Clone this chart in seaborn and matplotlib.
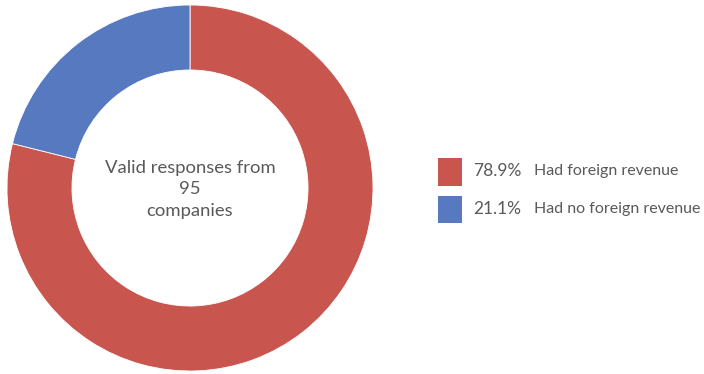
import matplotlib
matplotlib.use("Agg")
import matplotlib.pyplot as plt
from matplotlib.patches import Rectangle
import seaborn as sns

# Survey breakdown
categories = ["Had foreign revenue", "Had no foreign revenue"]
shares = [78.9, 21.1]
pct_labels = ["78.9%", "21.1%"]
center_label = "Valid responses from\n95\ncompanies"

colors = ["#C9554F", "#5679BF"]
text_color = "#595959"

sns.set_theme(style="white")
plt.rcParams["font.family"] = ["Lato", "DejaVu Sans"]

fig = plt.figure(figsize=(7.04, 3.74), dpi=100)
ax = fig.add_axes([7 / 704, 3 / 374, 366 / 704, 366 / 374])

ax.pie(
    shares,
    colors=colors,
    startangle=90,
    counterclock=False,
    radius=1.0,
    wedgeprops=dict(width=0.355, edgecolor="white", linewidth=0.6),
)
ax.set_xlim(-1, 1)
ax.set_ylim(-1, 1)
ax.set_aspect("equal")
ax.axis("off")

ax.text(0, -0.008, center_label, ha="center", va="center", fontsize=13.3,
        color=text_color, linespacing=1.4)

# Legend: colored swatch, percentage, category label
W, H = 704, 374
rows_y = [171.5, 209.5]
for y, c, p, lab in zip(rows_y, colors, pct_labels, categories):
    fig.patches.append(Rectangle((438 / W, 1 - (y + 14) / H), 24 / W, 28 / H,
                                 transform=fig.transFigure, facecolor=c,
                                 edgecolor="none"))
    fig.text(473 / W, 1 - y / H, p, ha="left", va="center", fontsize=12.5,
             color=text_color)
    fig.text(534 / W, 1 - y / H, lab, ha="left", va="center", fontsize=11.5,
             color=text_color)

fig.savefig("out.png", dpi=100)
